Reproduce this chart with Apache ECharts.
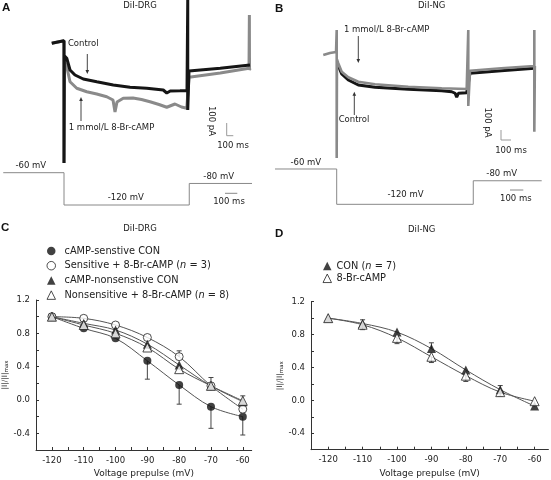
<!DOCTYPE html>
<html><head><meta charset="utf-8">
<script src="https://cdn.jsdelivr.net/npm/echarts@6/dist/echarts.min.js"></script>
<style>html,body{margin:0;padding:0;background:#fff}#c{width:551px;height:480px}</style>
</head><body><div id="c"></div>
<script>
// ---------- Panel A / B traces: [time (ms), current (pA)] ----------
const traceA_control = [[-98,-10],[-60,-2],[-20,6],[0,10],[0,-968],[3,-110],[22,-130],[48,-224],[88,-264],[154,-296],[262,-318],[394,-344],[528,-362],[662,-370],[794,-384],[822,-408],[850,-392],[928,-390],[984,-388],[990,340],[990,-544],[1000,-232],[1250,-210],[1488,-184]];
const traceA_cAMP = [[-98,-10],[0,10],[0,-968],[3,-150],[22,-198],[48,-318],[102,-370],[182,-398],[262,-416],[342,-438],[392,-464],[408,-560],[424,-480],[474,-450],[552,-448],[620,-460],[688,-478],[760,-500],[822,-522],[888,-496],[940,-520],[982,-530],[990,-530],[1000,-282],[1250,-248],[1480,-210],[1483,216],[1484,-224],[1488,-210]];
const traceB_control = [[12,-110],[38,-176],[88,-224],[164,-264],[291,-282],[544,-298],[798,-310],[874,-318],[900,-330],[912,-362],[925,-330],[937,-326],[988,-326],[1000,-326],[1013,-170],[1250,-150],[1502,-130]];
const traceB_cAMP = [[-102,-24],[-51,-8],[-5,0],[0,176],[0,-848],[2,-60],[12,-90],[38,-158],[88,-202],[164,-238],[291,-258],[544,-278],[798,-290],[988,-296],[1000,176],[1000,-432],[1013,-150],[1250,-130],[1502,-112],[1502,176],[1502,-638],[1506,-112]];
// voltage protocols: [time (ms), mV]
const protocolA = [[-486,-60],[0,-60],[0,-120],[1002,-120],[1002,-80],[1504,-80]];
const protocolB = [[-469,-60],[0,-60],[0,-120],[1038,-120],[1038,-80],[1558,-80]];

// ---------- Panel C / D ----------
const voltages = [-120,-110,-100,-90,-80,-70,-60];
const cSensCon  = [1.00,0.86,0.74,0.47,0.18,-0.08,-0.20];
const cSensCamp = [1.00,0.98,0.90,0.75,0.52,0.17,-0.11];
const cNonCon   = [1.00,0.92,0.84,0.67,0.42,0.17,-0.02];
const cNonCamp  = [1.00,0.90,0.80,0.63,0.37,0.17,-0.01];
const cSensConErrDown = [0,0,0,0.22,0.23,0.26,0.22];
const cSensCampErrUp  = [0,0,0,0,0.07,0.10,0];
const cNonCampErrUp   = [0,0,0,0,0,0,0.06];
const dCon  = [1.00,0.935,0.83,0.63,0.37,0.13,-0.07];
const dCamp = [1.00,0.92,0.76,0.53,0.30,0.10,-0.01];
const dConErrUp    = [0,0,0,0.07,0,0.05,0];
const dCampErrDown = [0,0.06,0.07,0.07,0.07,0.05,0];
const dCampErrUp   = [0,0.06,0,0,0,0,0];
const xTickVals  = [-120,-115,-110,-105,-100,-95,-90,-85,-80,-75,-70,-65,-60];
const xLabelVals = [-120,-110,-100,-90,-80,-70,-60];
const yTickVals  = [-0.4,-0.2,0,0.2,0.4,0.6,0.8,1.0,1.2];
const yLabelVals = [-0.4,0,0.4,0.8,1.2];

const FF = 'DejaVu Sans';
const chart = echarts.init(document.getElementById('c'), null, {renderer:'canvas'});
const zip = (xs, ys) => xs.map((x,i)=>[x, ys[i]]);

function errBars(gi, xs, ys, lo, hi) {
  const data = [];
  xs.forEach((x,i)=>{ if (lo[i]>0 || hi[i]>0) data.push([x, ys[i], ys[i]-lo[i], ys[i]+hi[i]]); });
  return {type:'custom', xAxisIndex:gi, yAxisIndex:gi, data, z:3, silent:true,
    encode:{x:0, y:[1,2,3]},
    renderItem(params, api){
      const x=api.value(0), y=api.value(1), l=api.value(2), h=api.value(3);
      const p0=api.coord([x,l]), p1=api.coord([x,h]);
      const st={stroke:'#444', lineWidth:1};
      const ch=[{type:'line', shape:{x1:p0[0],y1:p0[1],x2:p1[0],y2:p1[1]}, style:st}];
      if (l<y) ch.push({type:'line', shape:{x1:p0[0]-2.5,y1:p0[1],x2:p0[0]+2.5,y2:p0[1]}, style:st});
      if (h>y) ch.push({type:'line', shape:{x1:p1[0]-2.5,y1:p1[1],x2:p1[0]+2.5,y2:p1[1]}, style:st});
      return {type:'group', children:ch};
    }};
}
function curve(gi, data) {
  return {type:'line', xAxisIndex:gi, yAxisIndex:gi, data, smooth:0.35, symbol:'none',
    lineStyle:{color:'#555', width:1}, z:2, silent:true};
}
function pts(gi, name, data, symbol, filled, size) {
  return {type:'scatter', name, xAxisIndex:gi, yAxisIndex:gi, data, symbol, symbolSize:size||8, z:5,
    itemStyle: filled ? {color:'#111'} : {color:'#fff', borderColor:'#222', borderWidth:1}};
}
function trace(gi, data, color, w, z) {
  return {type:'line', xAxisIndex:gi, yAxisIndex:gi, data, symbol:'none', z:z||2, silent:true,
    lineStyle:{color, width:w}};
}
const hidden = (gi, min, max) => ({gridIndex:gi, type:'value', min, max, show:false});

function plotX(gi, max) {
  return {gridIndex:gi, type:'value', min:-125, max,
    axisLine:{show:true, onZero:false, lineStyle:{color:'#333', width:1}},
    axisTick:{show:true, inside:true, length:3, customValues:xTickVals, lineStyle:{color:'#333'}},
    axisLabel:{customValues:xLabelVals, margin:6, fontSize:8.5, fontFamily:FF, color:'#222'},
    splitLine:{show:false},
    name:'Voltage prepulse (mV)', nameLocation:'middle', nameGap:19,
    nameTextStyle:{fontSize:9, fontFamily:FF, color:'#222'}};
}
function plotY(gi, gap) {
  return {gridIndex:gi, type:'value', min:-0.6, max:1.2,
    axisLine:{show:true, onZero:false, lineStyle:{color:'#333', width:1}},
    axisTick:{show:true, inside:true, length:3, customValues:yTickVals, lineStyle:{color:'#333'}},
    axisLabel:{customValues:yLabelVals, margin:6, fontSize:8.5, fontFamily:FF, color:'#222',
      formatter:v=>v.toFixed(1)},
    splitLine:{show:false},
    name:'|I|/|I|{s|max}', nameLocation:'middle', nameGap:gap, nameRotate:90,
    nameTextStyle:{fontSize:7.5, fontFamily:FF, color:'#222', rich:{s:{fontSize:5.5, fontFamily:FF, color:'#222', verticalAlign:'bottom'}}}};
}

const T = (text, x, y, opt) => Object.assign({type:'text', x, y,
  style:{text, fontSize:8.5, fontFamily:FF, fill:'#222', align:'center', verticalAlign:'middle'}}, opt||{});
const L = (x1,y1,x2,y2,color,w) => ({type:'line', shape:{x1,y1,x2,y2}, style:{stroke:color||'#444', lineWidth:w||1}});
const arrowDown = (x,y1,y2) => [L(x,y1,x,y2-3,'#444'), {type:'polygon', shape:{points:[[x-1.8,y2-4],[x+1.8,y2-4],[x,y2]]}, style:{fill:'#333'}}];
const arrowUp = (x,y1,y2) => [L(x,y1,x,y2+3,'#444'), {type:'polygon', shape:{points:[[x-1.8,y2+4],[x+1.8,y2+4],[x,y2]]}, style:{fill:'#333'}}];

const bold = (t,x,y) => ({type:'text', x, y, style:{text:t, fontSize:11.5, fontWeight:'bold', fontFamily:'Liberation Sans', fill:'#111', align:'left', verticalAlign:'top'}});

const graphics = [
  bold('A',2,2), bold('B',275,3), bold('C',1,222), bold('D',275,228),
  T('DiI-DRG',140,6), T('DiI-NG',431.7,6), T('DiI-DRG',140,228.3), T('DiI-NG',421.7,230),
  // panel A annotations
  T('Control',83.3,43.3), ...arrowDown(87.3,54,74),
  T('1 mmol/L 8-Br-cAMP',111.5,127.3), ...arrowUp(81,121,97),
  L(226.7,123,226.7,135.7,'#999'), L(226.7,135.7,233.3,135.7,'#999'),
  T('100 pA',211.7,121,{rotation:-Math.PI/2}), T('100 ms',233,145.7),
  T('-60 mV',30.8,166), T('-120 mV',125.7,197.3), T('-80 mV',218.7,176.7),
  L(225,193.3,237.3,193.3,'#888'), T('100 ms',229,201.7),
  // panel B annotations
  T('1 mmol/L 8-Br-cAMP',386.7,29.3), ...arrowDown(358.3,36,63),
  T('Control',354,120), ...arrowUp(354.3,115,91.7),
  L(501,130,501,140,'#999'), L(501,140,511,140,'#999'),
  T('100 pA',487.5,122.5,{rotation:-Math.PI/2}), T('100 ms',511,150.7),
  T('-60 mV',305.8,162.3), T('-120 mV',405.5,195), T('-80 mV',501.7,174),
  L(510,190,523.3,190,'#888'), T('100 ms',515.8,199)
];

const legendText = (pad) => ({fontSize:9.8, fontFamily:FF, color:'#222', lineHeight:11, padding:[0,0,0,pad],
  rich:{i:{fontSize:9.8, fontFamily:FF, color:'#222', fontStyle:'italic', lineHeight:11}}});
const legFmt = n => n.replace('(n =', '({i|n} =');

chart.setOption({
  animation:false,
  backgroundColor:'#fff',
  grid:[
    {left:2, top:0, width:252, height:170},
    {left:2, top:167.3, width:252, height:43.1},
    {left:274, top:0, width:270, height:170},
    {left:274, top:163.1, width:270, height:47.1},
    {left:36, top:300, width:215.7, height:150},
    {left:311, top:301.7, width:237.4, height:148}
  ],
  xAxis:[hidden(0,-496,1520), hidden(1,-496,1520), hidden(2,-476.5,1575.5), hidden(3,-476.5,1575.5),
    plotX(4,-57.2), plotX(5,-56)],
  yAxis:[hidden(0,-1024,336), hidden(1,-130,-50), hidden(2,-944,416), hidden(3,-130,-50),
    plotY(4,21), plotY(5,25)],
  legend:[
    {orient:'vertical', left:46.5, top:245.5, padding:0, itemWidth:8.5, itemHeight:8.5, itemGap:3.7, textStyle:legendText(4), formatter:legFmt,
     itemStyle:{borderWidth:1},
     data:['cAMP-senstive CON','Sensitive + 8-Br-cAMP (n = 3)','cAMP-nonsenstive CON','Nonsensitive + 8-Br-cAMP (n = 8)']},
    {orient:'vertical', left:322.5, top:260.5, padding:0, itemWidth:8.5, itemHeight:8.5, itemGap:1.3, textStyle:legendText(0), formatter:legFmt,
     itemStyle:{borderWidth:1},
     data:['CON (n = 7)','8-Br-cAMP']}
  ],
  graphic:graphics,
  series:[
    trace(0, traceA_cAMP, '#8a8a8a', 3, 2),
    trace(0, traceA_control, '#151515', 3, 3),
    trace(1, protocolA, '#888', 1, 2),
    trace(2, traceB_control, '#151515', 3, 2),
    trace(2, traceB_cAMP, '#8a8a8a', 2.6, 3),
    trace(3, protocolB, '#888', 1, 2),
    curve(4, zip(voltages, cSensCon)), curve(4, zip(voltages, cSensCamp)),
    curve(4, zip(voltages, cNonCon)), curve(4, zip(voltages, cNonCamp)),
    errBars(4, voltages, cSensCon, cSensConErrDown, cSensConErrDown.map(()=>0)),
    errBars(4, voltages, cSensCamp, cSensCampErrUp.map(()=>0), cSensCampErrUp),
    errBars(4, voltages, cNonCamp, cNonCampErrUp.map(()=>0), cNonCampErrUp),
    pts(4, 'cAMP-senstive CON', zip(voltages, cSensCon), 'circle', true, 8),
    pts(4, 'Sensitive + 8-Br-cAMP (n = 3)', zip(voltages, cSensCamp), 'circle', false, 8),
    pts(4, 'cAMP-nonsenstive CON', zip(voltages, cNonCon), 'triangle', true, 9),
    pts(4, 'Nonsensitive + 8-Br-cAMP (n = 8)', zip(voltages, cNonCamp), 'triangle', false, 9),
    curve(5, zip(voltages, dCon)), curve(5, zip(voltages, dCamp)),
    errBars(5, voltages, dCon, dConErrUp.map(()=>0), dConErrUp),
    errBars(5, voltages, dCamp, dCampErrDown, dCampErrUp),
    pts(5, 'CON (n = 7)', zip(voltages, dCon), 'triangle', true, 9),
    pts(5, '8-Br-cAMP', zip(voltages, dCamp), 'triangle', false, 9)
  ]
});
</script></body></html>
